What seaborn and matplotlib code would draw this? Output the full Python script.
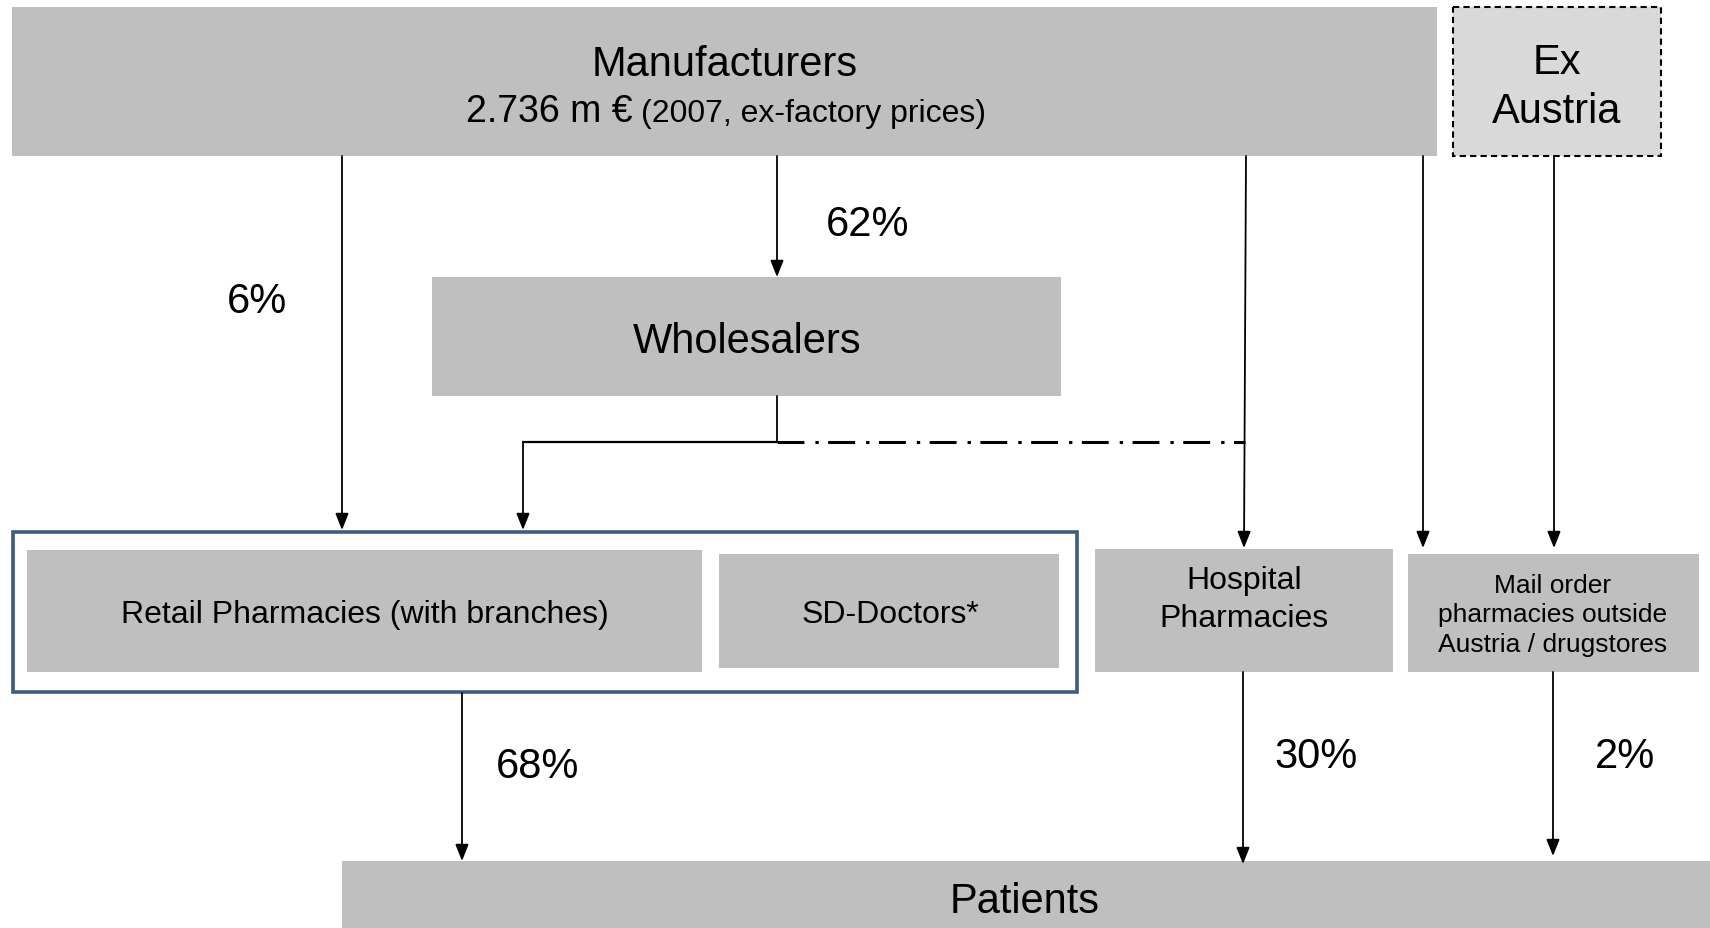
import seaborn as sns
import matplotlib.pyplot as plt
from matplotlib.patches import Rectangle

# text content of the flow diagram
source_title = "Manufacturers"
source_value = "2.736 m €"
source_note = "(2007, ex-factory prices)"
import_label = "Ex\nAustria"
middle_label = "Wholesalers"
outlet_labels = ["Retail Pharmacies (with branches)", "SD-Doctors*",
                 "Hospital\nPharmacies", "Mail order\npharmacies outside\nAustria / drugstores"]
sink_label = "Patients"
share_in = [6, 62]          # manufacturers -> retail / wholesalers
share_out = [68, 30, 2]     # outlets -> patients

sns.set_theme(style="white")
plt.rcParams["font.family"] = ["Liberation Sans", "DejaVu Sans"]
plt.rcParams["text.color"] = "black"

GREY = "#bfbfbf"
BLUE = "#3c5a87"

fig = plt.figure(figsize=(17.1, 9.29), dpi=100)
ax = fig.add_axes([0, 0, 1, 1])
ax.set_xlim(0, 1710)
ax.set_ylim(929, 0)
ax.axis("off")


def box(x0, y0, x1, y1, **kw):
    kw.setdefault("facecolor", GREY)
    kw.setdefault("edgecolor", "none")
    ax.add_patch(Rectangle((x0, y0), x1 - x0, y1 - y0, **kw))


def arrow(x0, y0, x1, y1):
    ax.annotate("", xy=(x1, y1), xytext=(x0, y0),
                arrowprops=dict(arrowstyle="-|>,head_length=0.5,head_width=0.2",
                                color="black", lw=1.3, mutation_scale=20,
                                shrinkA=0, shrinkB=0))


# boxes
box(12, 8, 1437, 157)
box(1453, 8, 1661, 157, facecolor="#d9d9d9", edgecolor="black", lw=1.5, linestyle=(0, (3, 2)))
box(432, 278, 1061, 397)
box(12.5, 532.5, 1077, 693, facecolor="white", edgecolor=BLUE, lw=2.6)
box(27, 551, 702, 673)
box(719, 555, 1059, 669)
box(1095, 550, 1393, 673)
box(1408, 555, 1699, 673)
box(342, 862, 1712, 935)

# box texts
ax.text(725, 76, source_title, ha="center", va="baseline", fontsize=30)
ax.text(466, 122, source_value, ha="left", va="baseline", fontsize=27)
ax.text(641, 122, source_note, ha="left", va="baseline", fontsize=23)
ax.text(1557, 123, import_label, ha="center", va="baseline", fontsize=30, linespacing=1.3)
ax.text(747, 353, middle_label, ha="center", va="baseline", fontsize=30)
ax.text(365, 623, outlet_labels[0], ha="center", va="baseline", fontsize=23)
ax.text(890, 623, outlet_labels[1], ha="center", va="baseline", fontsize=23)
ax.text(1244, 627, outlet_labels[2], ha="center", va="baseline", fontsize=23, linespacing=1.33)
ax.text(1553, 652, outlet_labels[3], ha="center", va="baseline", fontsize=19, linespacing=1.3)
ax.text(1025, 913, sink_label, ha="center", va="baseline", fontsize=30)

# flows from the top
arrow(342, 157, 342, 531)
arrow(777, 157, 777, 278)
ax.plot([777, 777], [397, 443], color="black", lw=1.3)
ax.plot([522, 777], [443, 443], color="black", lw=1.6, solid_capstyle="butt")
arrow(523, 443, 523, 531)
ax.plot([777, 1245], [443, 443], color="black", lw=2.2,
        dashes=(8.8, 3.6, 1.1, 3.1))
arrow(1246, 157, 1244, 549)
arrow(1423, 157, 1423, 549)
arrow(1554, 157, 1554, 549)

# flows to patients
arrow(462, 694, 462, 862)
arrow(1243, 673, 1243, 865)
arrow(1553, 673, 1553, 857)

# shares
for x, y, v in zip([257, 868], [313, 236], share_in):
    ax.text(x, y, f"{v}%", ha="center", va="baseline", fontsize=30)
for x, y, v in zip([538, 1316, 1625], [778, 768, 768], share_out):
    ax.text(x, y, f"{v}%", ha="center", va="baseline", fontsize=30)

fig.savefig("out.png", dpi=100)
